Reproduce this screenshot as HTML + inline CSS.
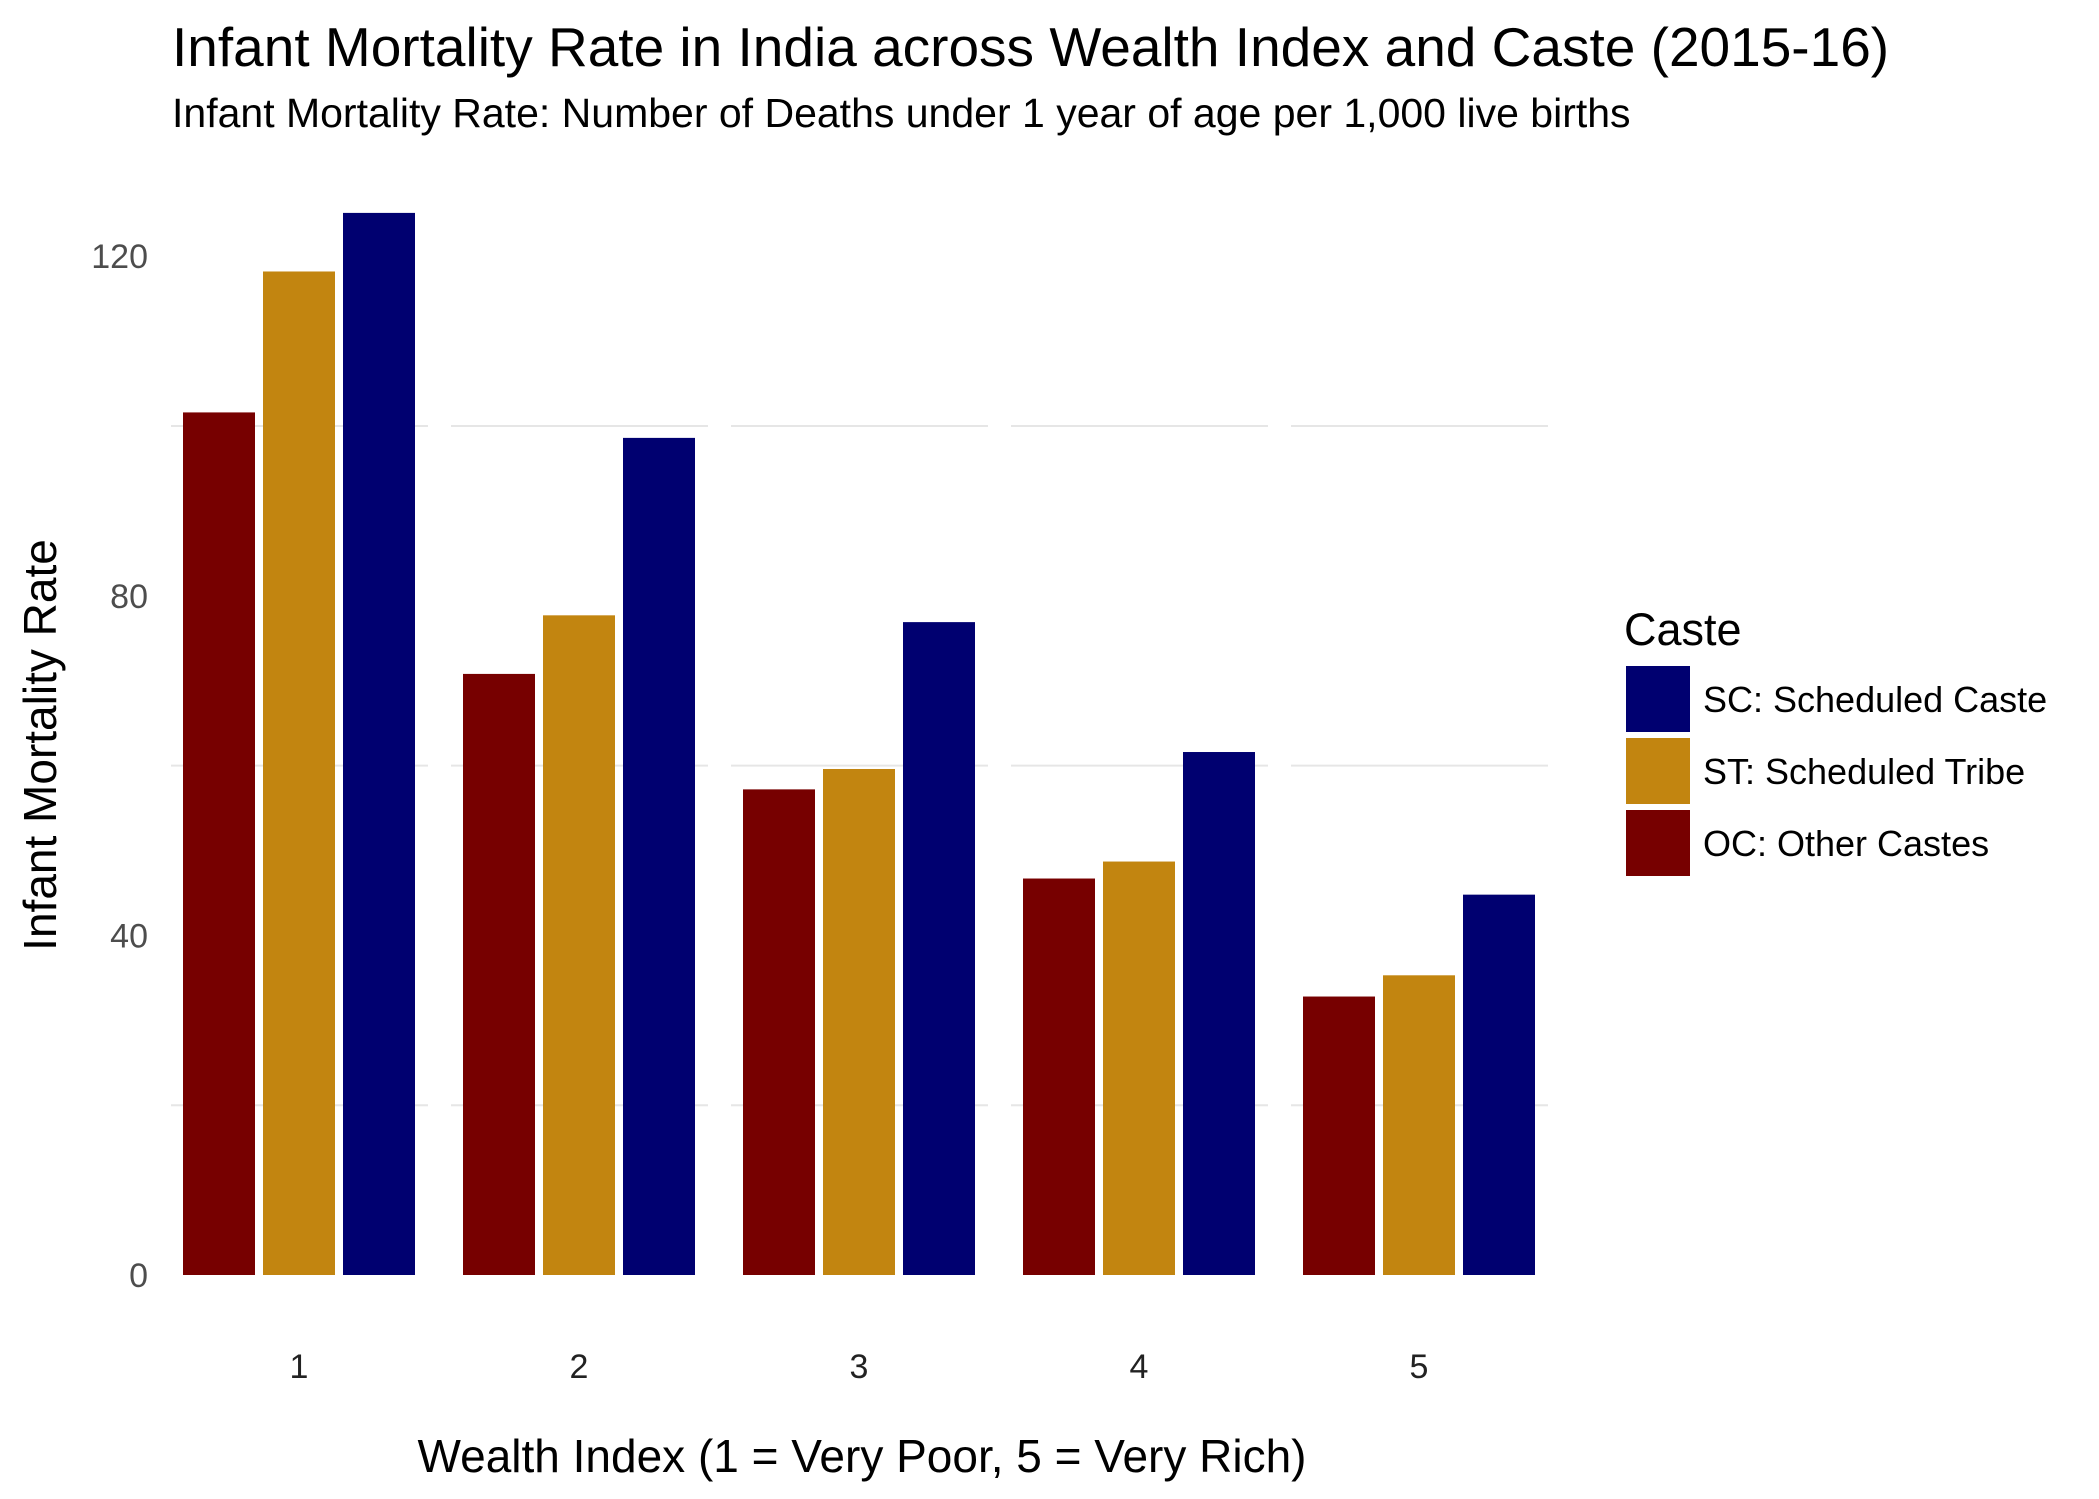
<!DOCTYPE html>
<html><head><meta charset="utf-8"><style>
body{margin:0;background:#fff;}
svg{display:block;font-family:"Liberation Sans",Arial,sans-serif;}
</style></head><body>
<svg width="2099" height="1499" viewBox="0 0 2099 1499">
<text x="172" y="66" font-size="55" fill="#000">Infant Mortality Rate in India across Wealth Index and Caste (2015-16)</text>
<text x="172" y="127" font-size="41" fill="#000">Infant Mortality Rate: Number of Deaths under 1 year of age per 1,000 live births</text>
<g id="grid"></g>
<g id="bars"></g>
<g id="yticks"></g>
<g id="xticks"></g>
<text x="862" y="1472" font-size="46" text-anchor="middle" fill="#000">Wealth Index (1 = Very Poor, 5 = Very Rich)</text>
<text transform="translate(56,745) rotate(-90)" font-size="46" text-anchor="middle" fill="#000">Infant Mortality Rate</text>
<g>
<text x="1624" y="645" font-size="45" fill="#000">Caste</text>
<g id="legend"></g>
</g>
</svg>
<script>
const categories=["1","2","3","4","5"];
const seriesNames=["OC: Other Castes","ST: Scheduled Tribe","SC: Scheduled Caste"];
const ocValues=[101.6,70.8,57.2,46.7,32.8];
const stValues=[118.2,77.7,59.6,48.7,35.3];
const scValues=[125.1,98.6,76.9,61.6,44.8];
const yTicks=[0,40,80,120];
const minorTicks=[20,60,100];
const colors=["#770000","#C28510","#000070"];
const NS="http://www.w3.org/2000/svg";
function y(v){return 1275-v*8.49;}
function gx(i){return 183+i*280;}
function mk(tag,attrs,parent){const e=document.createElementNS(NS,tag);for(const k in attrs)e.setAttribute(k,attrs[k]);parent.appendChild(e);return e;}
const grid=document.getElementById('grid');
minorTicks.forEach(t=>{categories.forEach((c,i)=>{
 const l=mk('line',{x1:gx(i)-12,x2:gx(i)+245,y1:y(t),y2:y(t),stroke:'#e6e6e6','stroke-width':2},grid);
 
 
});});
const series=[ocValues,stValues,scValues];
const bars=document.getElementById('bars');
categories.forEach((c,i)=>{series.forEach((s,j)=>{
 const r=mk('rect',{x:gx(i)+j*80,y:y(s[i]),width:72,height:y(0)-y(s[i]),fill:colors[j]},bars);
 
 
});});
const yt=document.getElementById('yticks');
yTicks.forEach(t=>{
 const e=mk('text',{x:148,y:y(t)+12,'font-size':34,'text-anchor':'end',fill:'#4d4d4d'},yt);
 e.textContent=t;
 
 
});
const xt=document.getElementById('xticks');
categories.forEach((c,i)=>{
 const e=mk('text',{x:gx(i)+116,y:1378,'font-size':34,'text-anchor':'middle',fill:'#222'},xt);
 e.textContent=c;
 
 
});
const lg=document.getElementById('legend');
[2,1,0].forEach((j,k)=>{
 const r=mk('rect',{x:1626,y:666+k*72,width:64,height:66,fill:colors[j]},lg);
 
 
 const t=mk('text',{x:1703,y:712+k*72,'font-size':36,fill:'#000'},lg);
 t.textContent=seriesNames[j];
 
 
});
</script>
</body></html>
